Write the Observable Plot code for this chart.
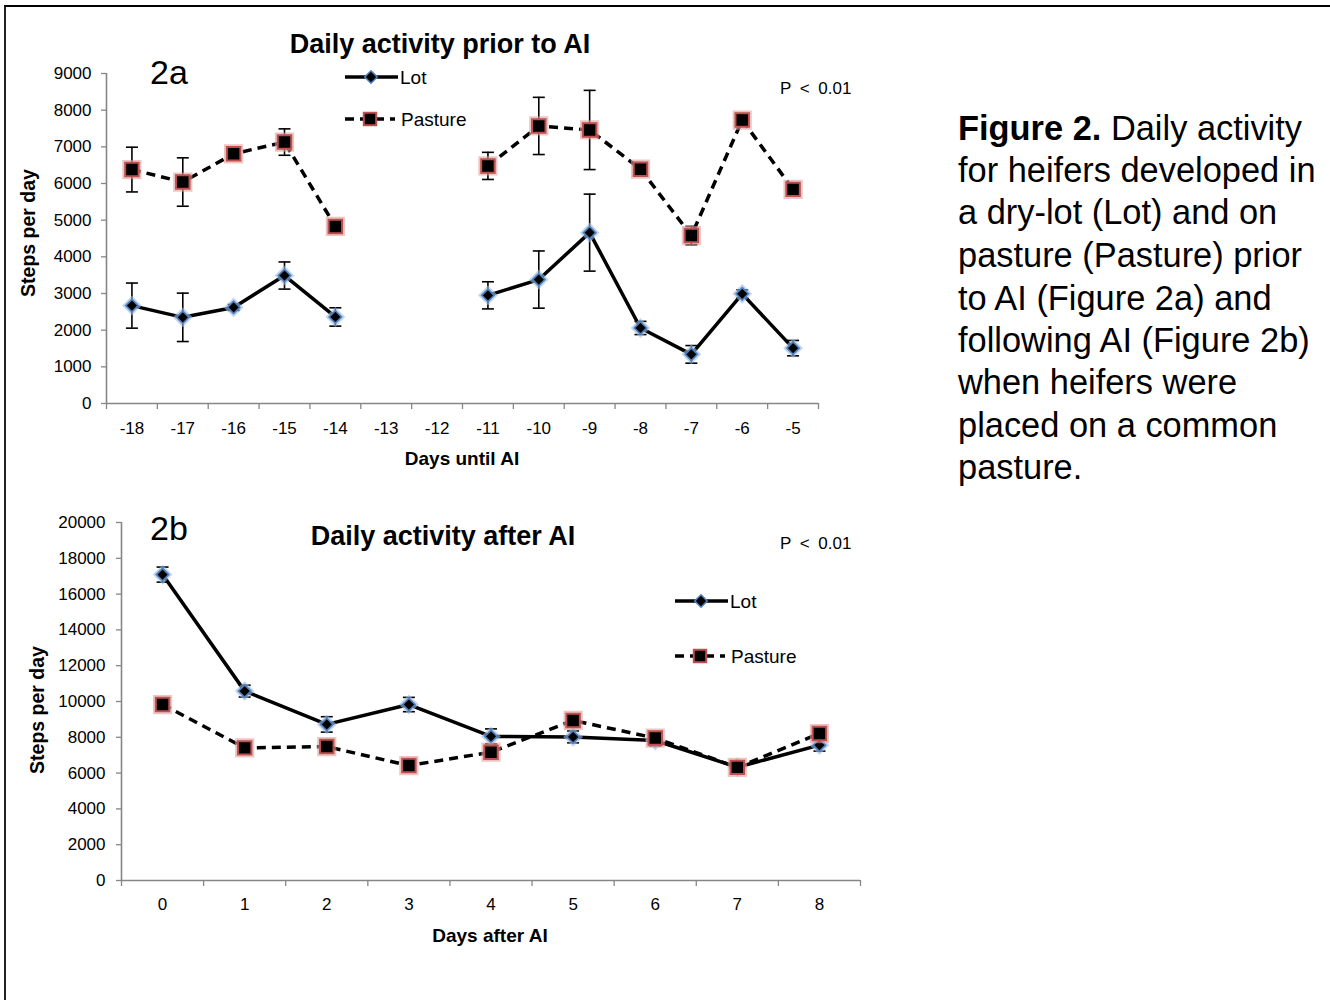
<!DOCTYPE html>
<html>
<head>
<meta charset="utf-8">
<script src="https://cdn.jsdelivr.net/npm/d3@7"></script>
<script src="https://cdn.jsdelivr.net/npm/@observablehq/plot@0.6"></script>
<style>
  html, body { margin: 0; padding: 0; background: #fff; }
  #page { position: relative; width: 1330px; height: 1000px; overflow: hidden; font-family: "Liberation Sans", Arial, sans-serif; }
  #frame { position: absolute; left: 4px; top: 5px; width: 1400px; height: 1100px; border-top: 2px solid #000; border-left: 2px solid #222; }
  .chart { position: absolute; left: 0; }
  #overlay { position: absolute; left: 0; top: 0; pointer-events: none; }
</style>
</head>
<body>
<div id="page">
  <div id="frame"></div>
  <div id="c2a" class="chart" style="top:0px"></div>
  <div id="c2b" class="chart" style="top:480px"></div>
  <svg id="overlay" width="1330" height="1000" font-family="Liberation Sans, Arial, sans-serif">
    <!-- 2a texts -->
    <text x="440" y="52.5" font-size="27" font-weight="bold" text-anchor="middle">Daily activity prior to AI</text>
    <text x="150" y="84" font-size="34">2a</text>
    <text x="780" y="94" font-size="17">P&#8194;&lt;&#8194;0.01</text>
    <text x="462" y="465" font-size="19" font-weight="bold" text-anchor="middle">Days until AI</text>
    <text transform="translate(35,233) rotate(-90)" font-size="19.5" font-weight="bold" text-anchor="middle">Steps per day</text>
    <g id="leg2a"></g>
    <!-- 2b texts -->
    <text x="443" y="544.5" font-size="27" font-weight="bold" text-anchor="middle">Daily activity after AI</text>
    <text x="150" y="540" font-size="34">2b</text>
    <text x="780" y="549" font-size="17">P&#8194;&lt;&#8194;0.01</text>
    <text x="490" y="942" font-size="19" font-weight="bold" text-anchor="middle">Days after AI</text>
    <text transform="translate(44,710) rotate(-90)" font-size="19.5" font-weight="bold" text-anchor="middle">Steps per day</text>
    <g id="leg2b"></g>
    <!-- caption -->
    <g font-size="34.4">
      <text x="958" y="140"><tspan font-weight="bold">Figure 2.</tspan> Daily activity</text>
      <text x="958" y="182">for heifers developed in</text>
      <text x="958" y="224">a dry-lot (Lot) and on</text>
      <text x="958" y="267">pasture (Pasture) prior</text>
      <text x="958" y="310">to AI (Figure 2a) and</text>
      <text x="958" y="352">following AI (Figure 2b)</text>
      <text x="958" y="394">when heifers were</text>
      <text x="958" y="437">placed on a common</text>
      <text x="958" y="479">pasture.</text>
    </g>
  </svg>
</div>
<script>
// ---------- DATA ----------
const days2a = [-18, -17, -16, -15, -14, -13, -12, -11, -10, -9, -8, -7, -6, -5];
const lot2a = [2670, 2350, 2620, 3490, 2360, null, null, 2950, 3380, 4660, 2060, 1340, 2990, 1510];
const lot2aSE = [615, 660, 80, 370, 250, null, null, 370, 780, 1050, 180, 240, 110, 210];
const pasture2a = [6380, 6040, 6810, 7130, 4830, null, null, 6480, 7570, 7460, 6390, 4580, 7730, 5840];
const pasture2aSE = [610, 660, 90, 360, 80, null, null, 370, 780, 1080, 90, 250, 90, 90];
const yTicks2a = [0, 1000, 2000, 3000, 4000, 5000, 6000, 7000, 8000, 9000];

const days2b = [0, 1, 2, 3, 4, 5, 6, 7, 8];
const lot2b = [17090, 10580, 8720, 9830, 8050, 8020, 7820, 6330, 7560];
const lot2bSE = [420, 330, 430, 400, 420, 330, 300, 200, 330];
const pasture2b = [9830, 7410, 7480, 6420, 7170, 8940, 7960, 6320, 8210];
const pasture2bSE = [150, 150, 150, 150, 150, 150, 150, 150, 150];
const yTicks2b = [0, 2000, 4000, 6000, 8000, 10000, 12000, 14000, 16000, 18000, 20000];

const seriesNames = ["Lot", "Pasture"];

// ---------- STYLE ----------
const AXIS = "#868686";
const LOT_EDGE = "#4f81bd";
const PAST_EDGE = "#c0504d";
const FONT = "Liberation Sans, Arial, sans-serif";
const capSymbol = { draw(ctx) { ctx.moveTo(-6, 0); ctx.lineTo(6, 0); } };

function rowsFor(days, lot, lotSE, past, pastSE) {
  return days.map((d, i) => ({ day: d, lot: lot[i], lotSE: lotSE[i], past: past[i], pastSE: pastSE[i] }));
}

function seriesMarks(rows, key, seKey, isLot) {
  const def = rows.filter(d => d[key] != null);
  const marks = [];
  marks.push(Plot.line(rows, { x: "day", y: key, stroke: "black", strokeWidth: 3.5,
    strokeDasharray: isLot ? null : "9,6", strokeLinecap: isLot ? "round" : "butt" }));
  marks.push(Plot.ruleX(def, { x: "day", y1: d => d[key] - d[seKey], y2: d => d[key] + d[seKey], stroke: "black", strokeWidth: 1.6 }));
  marks.push(Plot.dot(def, { x: "day", y: d => d[key] + d[seKey], symbol: capSymbol, fill: "none", stroke: "black", strokeWidth: 1.6 }));
  marks.push(Plot.dot(def, { x: "day", y: d => d[key] - d[seKey], symbol: capSymbol, fill: "none", stroke: "black", strokeWidth: 1.6 }));
  if (isLot) {
    marks.push(Plot.dot(def, { x: "day", y: key, symbol: "diamond2", r: 6.4, fill: "none", stroke: "#9dbbe0", strokeWidth: 4, strokeOpacity: 0.6 }));
    marks.push(Plot.dot(def, { x: "day", y: key, symbol: "diamond2", r: 5.6, fill: "black", stroke: LOT_EDGE, strokeWidth: 1.6 }));
  } else {
    marks.push(Plot.dot(def, { x: "day", y: key, symbol: "square", r: 8.6, fill: "none", stroke: "#e0a0a0", strokeWidth: 4, strokeOpacity: 0.6 }));
    marks.push(Plot.dot(def, { x: "day", y: key, symbol: "square", r: 7.6, fill: "black", stroke: PAST_EDGE, strokeWidth: 2 }));
  }
  return marks;
}

function chart(opts) {
  const { days, rows, yTicks, width, height, mL, mR, mT, mB, yMax, xPad } = opts;
  const bounds = d3.range(days.length + 1).map(i => days[0] - 0.5 + i);
  return Plot.plot({
    width, height,
    marginLeft: mL, marginRight: mR, marginTop: mT, marginBottom: mB,
    x: { domain: [days[0] - 0.5, days[days.length - 1] + 0.5] },
    y: { domain: [0, yMax] },
    style: { fontFamily: FONT, fontSize: "17px", color: "black", background: "transparent", overflow: "visible" },
    marks: [
      Plot.axisY({ ticks: yTicks, tickSize: 5, tickPadding: opts.yPad, stroke: AXIS, strokeWidth: 1.3,
        tickFormat: d => String(d), label: null, fontSize: 17, fill: "black" }),
      Plot.axisX({ ticks: bounds, tickSize: 6, stroke: AXIS, strokeWidth: 1.3, tickFormat: () => "", label: null }),
      Plot.axisX({ ticks: days, tickSize: 0, tickPadding: xPad, tickFormat: d => String(d), label: null, fontSize: 17, fill: "black" }),
      Plot.ruleY([0], { stroke: AXIS, strokeWidth: 1.6 }),
      Plot.ruleX([days[0] - 0.5], { stroke: AXIS, strokeWidth: 1.6 }),
      ...seriesMarks(rows, "lot", "lotSE", true),
      ...seriesMarks(rows, "past", "pastSE", false)
    ]
  });
}

const rows2a = rowsFor(days2a, lot2a, lot2aSE, pasture2a, pasture2aSE);
const rows2b = rowsFor(days2b, lot2b, lot2bSE, pasture2b, pasture2bSE);

document.getElementById("c2a").append(chart({
  days: days2a, rows: rows2a, yTicks: yTicks2a, width: 900, height: 480,
  mL: 106, mR: 82, mT: 73, mB: 77, yMax: 9000, xPad: 18, yPad: 10
}));
document.getElementById("c2b").append(chart({
  days: days2b, rows: rows2b, yTicks: yTicks2b, width: 900, height: 520,
  mL: 121, mR: 40, mT: 42, mB: 120, yMax: 20000, xPad: 17, yPad: 11
}));

// ---------- LEGENDS (drawn in the overlay) ----------
function legend(gId, x0, yLot, yPast) {
  const g = d3.select("#" + gId);
  // Lot
  g.append("line").attr("x1", x0).attr("x2", x0 + 53).attr("y1", yLot).attr("y2", yLot)
    .attr("stroke", "black").attr("stroke-width", 3.5);
  g.append("path").attr("d", d3.symbol(d3.symbolDiamond2, Math.PI * 5.6 * 5.6)())
    .attr("transform", `translate(${x0 + 26},${yLot})`).attr("fill", "black").attr("stroke", LOT_EDGE).attr("stroke-width", 1.6);
  g.append("text").attr("x", x0 + 55).attr("y", yLot + 7).attr("font-size", 19).text(seriesNames[0]);
  // Pasture
  g.append("line").attr("x1", x0).attr("x2", x0 + 50).attr("y1", yPast).attr("y2", yPast)
    .attr("stroke", "black").attr("stroke-width", 3.5).attr("stroke-dasharray", "9,6");
  g.append("path").attr("d", d3.symbol(d3.symbolSquare, Math.PI * 7 * 7)())
    .attr("transform", `translate(${x0 + 25},${yPast})`).attr("fill", "black").attr("stroke", PAST_EDGE).attr("stroke-width", 2);
  g.append("text").attr("x", x0 + 56).attr("y", yPast + 7).attr("font-size", 19).text(seriesNames[1]);
}
legend("leg2a", 345, 77, 119);
legend("leg2b", 675, 601, 656);
</script>
</body>
</html>
